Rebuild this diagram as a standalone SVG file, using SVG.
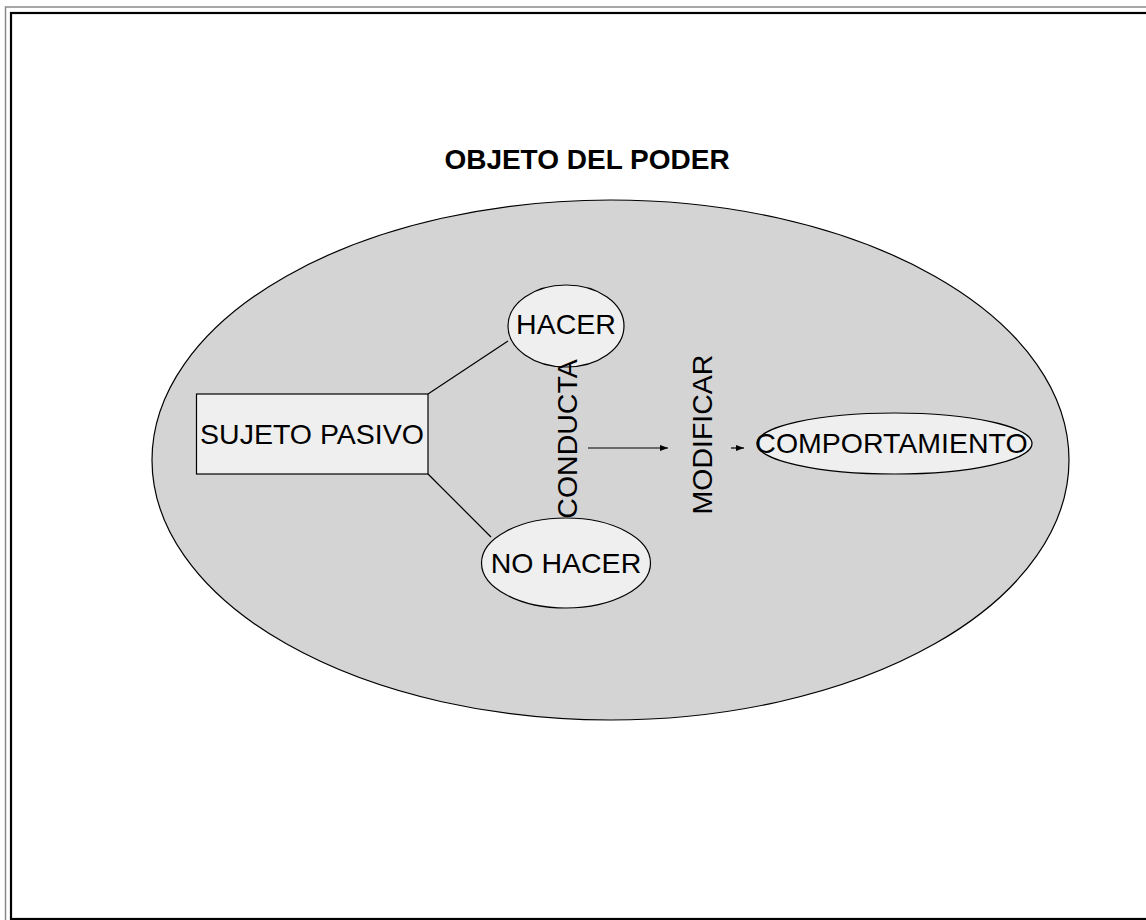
<svg xmlns="http://www.w3.org/2000/svg" width="1146" height="920" viewBox="0 0 1146 920">
<style>
  text { font-family: "Liberation Sans", Arial, sans-serif; font-size: 28.5px; fill: #000; text-anchor: middle; }
  .title { font-weight: bold; font-size: 28px; }
  .node { fill: #efefef; stroke: #000; stroke-width: 1.2; }
  .conn { stroke: #000; stroke-width: 1.2; fill: none; }
</style>
<defs>
  <marker id="arr" markerWidth="8" markerHeight="6" refX="8" refY="3" orient="auto" markerUnits="userSpaceOnUse">
    <path d="M0,0 L8,3 L0,6 z" fill="#000"/>
  </marker>
</defs>
<rect x="0" y="0" width="1146" height="920" fill="#fff"/>
<g id="frame">
  <rect x="5.5" y="7" width="1300" height="1000" fill="none" stroke="#8a8a8a" stroke-width="1.5"/>
  <rect x="11" y="13" width="1300" height="906" fill="none" stroke="#000" stroke-width="2.2"/>
</g>
<g id="title"><text class="title" x="587" y="169">OBJETO DEL PODER</text></g>
<g id="objeto">
  <ellipse cx="610.5" cy="460" rx="458.5" ry="260" fill="#d4d4d4" stroke="#000" stroke-width="1.2"/>
</g>
<g id="connectors">
  <line class="conn" x1="428" y1="394" x2="508" y2="341"/>
  <line class="conn" x1="428" y1="474" x2="491" y2="537"/>
  <line class="conn" x1="588" y1="448" x2="668" y2="448" marker-end="url(#arr)"/>
  <line class="conn" x1="731" y1="448" x2="744" y2="448" marker-end="url(#arr)"/>
</g>
<g id="sujeto">
  <rect class="node" x="196.5" y="394" width="231.5" height="80"/>
  <text x="312" y="444">SUJETO PASIVO</text>
</g>
<g id="hacer">
  <ellipse class="node" cx="566" cy="326" rx="58" ry="41"/>
  <text x="566" y="334">HACER</text>
</g>
<g id="nohacer">
  <ellipse class="node" cx="566" cy="563" rx="84.5" ry="45"/>
  <text x="566" y="573">NO HACER</text>
</g>
<g id="conducta">
  <text transform="translate(577,439) rotate(-90)" x="0" y="0">CONDUCTA</text>
</g>
<g id="modificar">
  <text transform="translate(712,434.5) rotate(-90)" x="0" y="0">MODIFICAR</text>
</g>
<g id="comportamiento">
  <ellipse class="node" cx="894.5" cy="443.5" rx="137.5" ry="30.5"/>
  <text x="891.5" y="453">COMPORTAMIENTO</text>
</g>
</svg>
